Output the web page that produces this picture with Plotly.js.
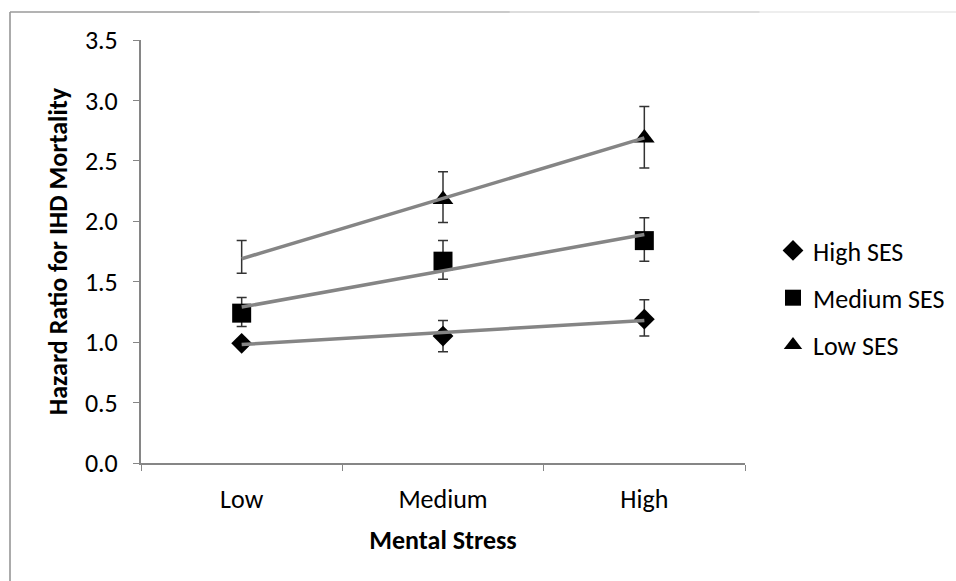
<!DOCTYPE html>
<html>
<head>
<meta charset="utf-8">
<script src="https://cdn.plot.ly/plotly-3.0.1.min.js"></script>
<style>
  html, body { margin: 0; padding: 0; background: #fff; }
  #chart { width: 956px; height: 581px; }
</style>
</head>
<body>
<div id="chart"></div>
<script>
// ---- data ----
var categories = ["Low", "Medium", "High"];
var seriesNames = ["High SES", "Medium SES", "Low SES"];

var highSES      = [0.99, 1.05, 1.19];
var highSES_lo   = [null, 0.92, 1.05];
var highSES_hi   = [null, 1.18, 1.35];

var mediumSES    = [1.24, 1.67, 1.84];
var mediumSES_lo = [1.13, 1.52, 1.67];
var mediumSES_hi = [1.37, 1.84, 2.03];

var lowSES       = [1.70, 2.18, 2.69];
var lowSES_lo    = [1.57, 1.99, 2.44];
var lowSES_hi    = [1.84, 2.41, 2.95];
var lowSES_markerShown = [false, true, true];

// linear trend lines as drawn in the reference
var trendHigh   = [0.98, 1.08, 1.18];
var trendMedium = [1.29, 1.59, 1.89];
var trendLow    = [1.69, 2.19, 2.69];

var yTickVals = [0, 0.5, 1, 1.5, 2, 2.5, 3, 3.5];
var yTickText = ["0.0", "0.5", "1.0", "1.5", "2.0", "2.5", "3.0", "3.5"];

var xTitle = "Mental Stress";
var yTitle = "Hazard Ratio for IHD Mortality";

// ---- helpers ----
function plus(y, hi) { return y.map(function (v, i) { return hi[i] == null ? NaN : hi[i] - v; }); }
function minus(y, lo) { return y.map(function (v, i) { return lo[i] == null ? NaN : v - lo[i]; }); }

var FONT = "Carlito, Calibri, Lato, sans-serif";
var FS = 26;
var errColor = "#333333";
function errY(y, lo, hi) {
  return { type: "data", symmetric: false, array: plus(y, hi), arrayminus: minus(y, lo),
           color: errColor, thickness: 1.5, width: 5 };
}

var W = 956, H = 581;
var M = { l: 141, r: W - 745, t: 40, b: H - 463, autoexpand: false };
var PW = W - M.l - M.r, PH = H - M.t - M.b;
function px(x) { return (x - M.l) / PW; }
function py(y) { return (H - M.b - y) / PH; }

var traces = [];

// High SES
traces.push({
  type: "scatter", mode: "markers", name: seriesNames[0], legendgroup: "g1",
  x: categories, y: highSES,
  marker: { symbol: "diamond", size: 16, color: "#000000" },
  error_y: errY(highSES, highSES_lo, highSES_hi), cliponaxis: false
});
// Medium SES
traces.push({
  type: "scatter", mode: "markers", name: seriesNames[1], legendgroup: "g2",
  x: categories, y: mediumSES,
  marker: { symbol: "square", size: 19, color: "#000000" },
  error_y: errY(mediumSES, mediumSES_lo, mediumSES_hi), cliponaxis: false
});
// Low SES error bars (all points, invisible markers)
traces.push({
  type: "scatter", mode: "markers", name: seriesNames[2], legendgroup: "g3", showlegend: false,
  x: categories, y: lowSES,
  marker: { symbol: "triangle-up", size: 18, color: "rgba(0,0,0,0)" },
  error_y: errY(lowSES, lowSES_lo, lowSES_hi), cliponaxis: false, hoverinfo: "skip"
});
// Low SES visible markers
traces.push({
  type: "scatter", mode: "markers", name: seriesNames[2], legendgroup: "g3",
  x: categories.filter(function (c, i) { return lowSES_markerShown[i]; }),
  y: lowSES.filter(function (v, i) { return lowSES_markerShown[i]; }),
  marker: { symbol: "triangle-up", size: 18, color: "#000000" }, cliponaxis: false
});
// trend lines (on top)
[trendHigh, trendMedium, trendLow].forEach(function (t) {
  traces.push({
    type: "scatter", mode: "lines", x: categories, y: t, showlegend: false,
    line: { color: "#858585", width: 3.5 }, hoverinfo: "skip", cliponaxis: false
  });
});

// outer frame (fading top edge like the reference)
var shapes = [
  { type: "line", xref: "paper", yref: "paper", x0: px(10), x1: px(10), y0: py(12), y1: py(H + 2),
    line: { color: "#8f8f8f", width: 1.5 } }
];
var topStops = [[10, 260, "#9a9a9a"], [259, 510, "#b8b8b8"], [509, 760, "#d2d2d2"], [759, 958, "#e8e8e8"]];
topStops.forEach(function (s) {
  shapes.push({ type: "line", xref: "paper", yref: "paper", x0: px(s[0]), x1: px(s[1]), y0: py(12), y1: py(12),
    line: { color: s[2], width: 1.5 } });
});

var layout = {
  width: W, height: H,
  margin: M,
  paper_bgcolor: "#ffffff", plot_bgcolor: "#ffffff",
  font: { family: FONT, size: FS, color: "#000000" },
  showlegend: true,
  legend: {
    x: px(773), y: py(227), xanchor: "left", yanchor: "top",
    font: { family: FONT, size: FS, color: "#000000" },
    tracegroupgap: 10.5, itemsizing: "trace", bgcolor: "rgba(0,0,0,0)"
  },
  xaxis: {
    type: "category", range: [-0.5, 2.5], fixedrange: true,
    showline: true, linecolor: "#868686", linewidth: 2,
    ticks: "outside", ticklen: 6, tickcolor: "#868686", tickwidth: 1, tickson: "boundaries",
    showgrid: false, zeroline: false, automargin: false,
    tickfont: { family: FONT, size: FS, color: "#000000" },
    ticklabelstandoff: 12,
    title: { text: xTitle, font: { family: FONT, size: FS, color: "#000000", weight: "bold" }, standoff: 17 }
  },
  yaxis: {
    range: [0, 3.5], fixedrange: true,
    tickvals: yTickVals, ticktext: yTickText,
    showline: true, linecolor: "#868686", linewidth: 2,
    ticks: "outside", ticklen: 6, tickcolor: "#868686", tickwidth: 1,
    showgrid: false, zeroline: false, automargin: false,
    tickfont: { family: FONT, size: FS, color: "#000000" },
    ticklabelstandoff: 10,
    title: { text: yTitle, font: { family: FONT, size: FS, color: "#000000", weight: "bold" }, standoff: 10 }
  },
  shapes: shapes
};

Plotly.newPlot("chart", traces, layout, { displayModeBar: false, staticPlot: true });
</script>
</body>
</html>
